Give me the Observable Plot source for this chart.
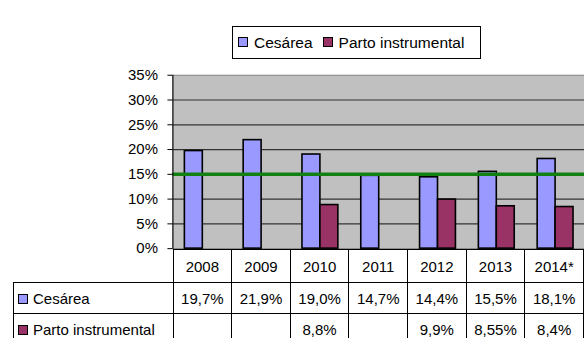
<!DOCTYPE html>
<html>
<head>
<meta charset="utf-8">
<script src="https://cdn.jsdelivr.net/npm/d3@7"></script>
<script src="https://cdn.jsdelivr.net/npm/@observablehq/plot@0.6"></script>
<style>
  html, body { margin: 0; padding: 0; background: #fff; }
  #wrap { position: relative; width: 584px; height: 338px; overflow: hidden; font-family: "Liberation Sans", Arial, sans-serif; color: #000; }
  #legend { position: absolute; left: 232px; top: 26px; width: 247px; height: 31px; border: 1px solid #000; box-sizing: content-box; font-size: 15.5px; display: flex; align-items: center; }
  .sw { display: inline-block; width: 8px; height: 8px; border: 1px solid #000; margin-right: 6px; vertical-align: middle; position: relative; top: -1px; }
  .li { display: inline-flex; align-items: center; }
  #chart { position: absolute; left: 0; top: 0; }
  #tbl { position: absolute; left: 13px; top: 249px; border-collapse: collapse; table-layout: fixed; font-size: 15px; }
  #tbl td { border: 1px solid #000; text-align: center; padding: 0; white-space: nowrap; overflow: hidden; }
  #tbl td.lab { text-align: left; padding-left: 4px; }
  #tbl td.blank { border: none; border-bottom: 1px solid #000; }
</style>
</head>
<body>
<div id="wrap">
  <div id="legend"></div>
  <div id="chart"></div>
  <table id="tbl"></table>
</div>
<script>
// ---- data ----
const years = ["2008", "2009", "2010", "2011", "2012", "2013", "2014*"];
const cesarea = [19.7, 21.9, 19.0, 14.7, 14.4, 15.5, 18.1];
const parto = [null, null, 8.8, null, 9.9, 8.55, 8.4];
const cesareaLabels = ["19,7%", "21,9%", "19,0%", "14,7%", "14,4%", "15,5%", "18,1%"];
const partoLabels = ["", "", "8,8%", "", "9,9%", "8,55%", "8,4%"];
const seriesNames = ["Cesárea", "Parto instrumental"];
const seriesColors = ["#9999ff", "#993366"];
const yTicks = [0, 5, 10, 15, 20, 25, 30, 35];
const gridTicks = [5, 10, 15, 20, 25, 30];
const referenceLine = [15];

// ---- legend ----
const legend = document.getElementById("legend");
legend.innerHTML =
  `<span class="li" style="margin-left:5px"><span class="sw" style="background:${seriesColors[0]}"></span>${seriesNames[0]}</span>` +
  `<span class="li" style="margin-left:10px"><span class="sw" style="background:${seriesColors[1]}"></span>${seriesNames[1]}</span>`;

// ---- chart ----
const rowsC = years.map((y, i) => ({year: y, value: cesarea[i]}));
const rowsP = years.map((y, i) => ({year: y, value: parto[i]})).filter(d => d.value != null);

const chart = Plot.plot({
  width: 586,
  height: 250,
  marginTop: 75,
  marginBottom: 1,
  marginLeft: 173,
  marginRight: 0,
  style: {fontFamily: '"Liberation Sans", Arial, sans-serif', fontSize: "15px", background: "transparent", overflow: "visible"},
  x: {domain: years, paddingInner: 0, paddingOuter: 0, axis: null},
  y: {domain: [0, 35], axis: null, label: null},
  marks: [
    Plot.frame({fill: "#c0c0c0", stroke: "#808080", strokeWidth: 1}),
    Plot.ruleY(gridTicks, {stroke: "#333", strokeWidth: 1.2}),
    Plot.barY(rowsC, {x: "year", y: "value", fill: seriesColors[0], stroke: "#000", strokeWidth: 1.6, insetLeft: 12, insetRight: 29}),
    Plot.barY(rowsP, {x: "year", y: "value", fill: seriesColors[1], stroke: "#000", strokeWidth: 1.6, insetLeft: 30, insetRight: 11}),
    Plot.ruleY(referenceLine, {stroke: "#138013", strokeWidth: 3.5}),
    Plot.axisY({ticks: yTicks, label: null, tickSize: 5, tickPadding: 10, tickFormat: d => d + "%", stroke: "#000", fill: "#000"}),
    Plot.frame({anchor: "left", stroke: "#000", strokeWidth: 1})
  ]
});
document.getElementById("chart").appendChild(chart);

// ---- table ----
const tbl = document.getElementById("tbl");
let html = `<colgroup><col style="width:160px">` + years.map(() => `<col style="width:59px">`).join("") + `</colgroup>`;
html += `<tr style="height:33px"><td class="blank"></td>` + years.map(y => `<td>${y}</td>`).join("") + `</tr>`;
html += `<tr style="height:31px"><td class="lab"><span class="sw" style="background:${seriesColors[0]};margin-right:5px"></span>${seriesNames[0]}</td>` + cesareaLabels.map(v => `<td>${v}</td>`).join("") + `</tr>`;
html += `<tr style="height:32px"><td class="lab"><span class="sw" style="background:${seriesColors[1]};margin-right:5px"></span>${seriesNames[1]}</td>` + partoLabels.map(v => `<td>${v}</td>`).join("") + `</tr>`;
tbl.innerHTML = html;
</script>
</body>
</html>
